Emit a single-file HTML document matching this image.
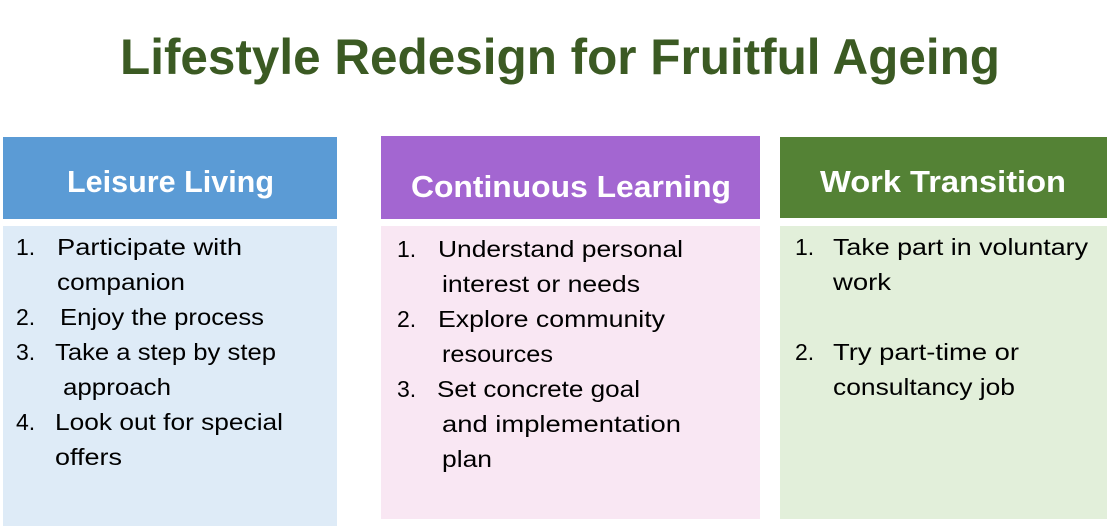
<!DOCTYPE html>
<html><head><meta charset="utf-8"><style>
html,body{margin:0;padding:0;background:#fff;}
svg{display:block;}
text{font-family:"Liberation Sans",sans-serif;}
.b{font-size:23px;fill:#000;}
.h{font-size:31px;font-weight:bold;fill:#fff;}
</style></head><body>
<svg width="1112" height="530" viewBox="0 0 1112 530" xmlns="http://www.w3.org/2000/svg">
<text x="120" y="74" font-size="50" font-weight="bold" fill="#3b5a23" textLength="880" lengthAdjust="spacingAndGlyphs">Lifestyle Redesign for Fruitful Ageing</text>

<rect x="3" y="137" width="334" height="82" fill="#5b9bd5"/>
<rect x="3" y="226" width="334" height="300" fill="#deebf7"/>
<rect x="381" y="136" width="379" height="83" fill="#a366d1"/>
<rect x="381" y="226" width="379" height="293" fill="#f9e7f3"/>
<rect x="780" y="137" width="327" height="81" fill="#548235"/>
<rect x="780" y="226" width="327" height="293" fill="#e2efda"/>

<text class="h" x="67" y="192" textLength="207" lengthAdjust="spacingAndGlyphs">Leisure Living</text>
<text class="h" x="411" y="197" textLength="320" lengthAdjust="spacingAndGlyphs">Continuous Learning</text>
<text class="h" x="820" y="192" textLength="246" lengthAdjust="spacingAndGlyphs">Work Transition</text>

<text class="b" x="16" y="255">1.</text>
<text class="b" x="57" y="255" textLength="185" lengthAdjust="spacingAndGlyphs">Participate with</text>
<text class="b" x="57" y="290" textLength="128" lengthAdjust="spacingAndGlyphs">companion</text>
<text class="b" x="16" y="325">2.</text>
<text class="b" x="60" y="325" textLength="204" lengthAdjust="spacingAndGlyphs">Enjoy the process</text>
<text class="b" x="16" y="360">3.</text>
<text class="b" x="55" y="360" textLength="221" lengthAdjust="spacingAndGlyphs">Take a step by step</text>
<text class="b" x="63" y="395" textLength="108" lengthAdjust="spacingAndGlyphs">approach</text>
<text class="b" x="16" y="430">4.</text>
<text class="b" x="55" y="430" textLength="228" lengthAdjust="spacingAndGlyphs">Look out for special</text>
<text class="b" x="55" y="465" textLength="67" lengthAdjust="spacingAndGlyphs">offers</text>

<text class="b" x="397" y="257">1.</text>
<text class="b" x="438" y="257" textLength="245" lengthAdjust="spacingAndGlyphs">Understand personal</text>
<text class="b" x="442" y="292" textLength="198" lengthAdjust="spacingAndGlyphs">interest or needs</text>
<text class="b" x="397" y="327">2.</text>
<text class="b" x="438" y="327" textLength="227" lengthAdjust="spacingAndGlyphs">Explore community</text>
<text class="b" x="442" y="362" textLength="111" lengthAdjust="spacingAndGlyphs">resources</text>
<text class="b" x="397" y="397">3.</text>
<text class="b" x="437" y="397" textLength="203" lengthAdjust="spacingAndGlyphs">Set concrete goal</text>
<text class="b" x="442" y="432" textLength="239" lengthAdjust="spacingAndGlyphs">and implementation</text>
<text class="b" x="442" y="467" textLength="50" lengthAdjust="spacingAndGlyphs">plan</text>

<text class="b" x="795" y="255">1.</text>
<text class="b" x="833" y="255" textLength="255" lengthAdjust="spacingAndGlyphs">Take part in voluntary</text>
<text class="b" x="833" y="290" textLength="58" lengthAdjust="spacingAndGlyphs">work</text>
<text class="b" x="795" y="360">2.</text>
<text class="b" x="833" y="360" textLength="186" lengthAdjust="spacingAndGlyphs">Try part-time or</text>
<text class="b" x="833" y="395" textLength="182" lengthAdjust="spacingAndGlyphs">consultancy job</text>
</svg>
</body></html>
